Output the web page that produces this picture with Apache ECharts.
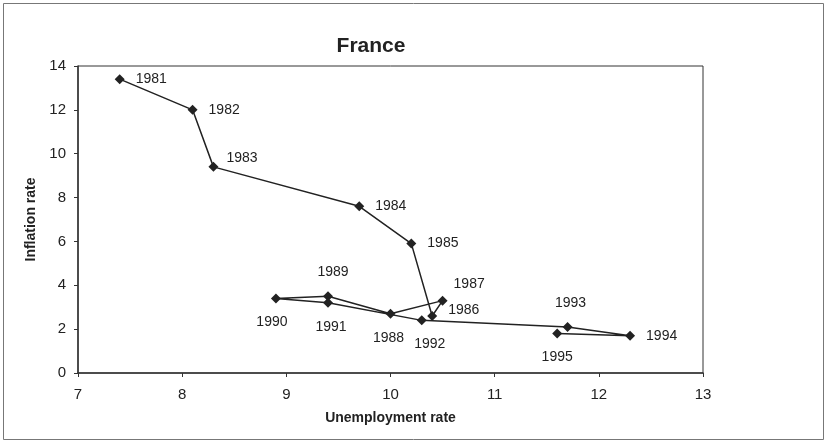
<!DOCTYPE html>
<html>
<head>
<meta charset="utf-8">
<script src="https://cdn.jsdelivr.net/npm/echarts@6/dist/echarts.min.js"></script>
<style>
  html, body { margin: 0; padding: 0; background: #fff; }
  #graphs { width: 827px; height: 443px; }
</style>
</head>
<body>
<div id="graphs"></div>
<script>
// data
var years = ['1981', '1982', '1983', '1984', '1985', '1986', '1987', '1988',
             '1989', '1990', '1991', '1992', '1993', '1994', '1995'];
var unemployment = [7.4, 8.1, 8.3, 9.7, 10.2, 10.4, 10.5, 10.0,
                    9.4, 8.9, 9.4, 10.3, 11.7, 12.3, 11.6];
var inflation = [13.4, 12.0, 9.4, 7.6, 5.9, 2.6, 3.3, 2.7,
                 3.5, 3.4, 3.2, 2.4, 2.1, 1.7, 1.8];
var xTicks = [7, 8, 9, 10, 11, 12, 13];
var yTicks = [0, 2, 4, 6, 8, 10, 12, 14];

// where each year label sits relative to its marker
var labelPlace = {
  '1981': { position: 'right', offset: [3, 0] },
  '1982': { position: 'right', offset: [3, 0] },
  '1983': { position: 'right', offset: [0, -9] },
  '1984': { position: 'right', offset: [3, 0] },
  '1985': { position: 'right', offset: [3, 0] },
  '1986': { position: 'right', offset: [3, -6] },
  '1987': { position: 'right', offset: [-2, -16] },
  '1988': { position: 'bottom', offset: [-2, 4] },
  '1989': { position: 'top', offset: [5, -4] },
  '1990': { position: 'bottom', offset: [-4, 4] },
  '1991': { position: 'bottom', offset: [3, 4] },
  '1992': { position: 'bottom', offset: [8, 4] },
  '1993': { position: 'top', offset: [3, -4] },
  '1994': { position: 'right', offset: [3, 0] },
  '1995': { position: 'bottom', offset: [0, 4] }
};

var points = years.map(function (y, i) {
  return {
    name: y,
    value: [unemployment[i], inflation[i]],
    label: labelPlace[y]
  };
});

var myChart = echarts.init(document.getElementById('graphs'));

var font = 'Arial, "Liberation Sans", sans-serif';

var option = {
  backgroundColor: '#fff',
  animation: false,
  title: {
    text: 'France',
    left: 366,
    top: 31,
    textAlign: 'center',
    textStyle: { fontFamily: font, fontSize: 21, fontWeight: 'bold', color: '#222' }
  },
  graphic: [{
    type: 'rect',
    shape: { x: 3.5, y: 3.5, width: 820, height: 436 },
    style: { fill: 'none', stroke: '#777', lineWidth: 1 }
  }],
  grid: {
    left: 78, right: 124, top: 66, bottom: 70,
    show: true, borderColor: '#333', borderWidth: 1
  },
  xAxis: {
    type: 'value',
    min: xTicks[0],
    max: xTicks[xTicks.length - 1],
    interval: 1,
    name: 'Unemployment rate',
    nameLocation: 'middle',
    nameGap: 38,
    nameTextStyle: { fontFamily: font, fontSize: 14, fontWeight: 'bold', color: '#222' },
    splitLine: { show: false },
    axisLine: { lineStyle: { color: '#333', width: 1.5 } },
    axisTick: { show: true, length: 4, lineStyle: { color: '#333' } },
    axisLabel: { fontFamily: font, fontSize: 15, color: '#222', margin: 14 }
  },
  yAxis: {
    type: 'value',
    min: yTicks[0],
    max: yTicks[yTicks.length - 1],
    interval: 2,
    name: 'Inflation rate',
    nameLocation: 'middle',
    nameGap: 38,
    nameTextStyle: { fontFamily: font, fontSize: 14, fontWeight: 'bold', color: '#222' },
    splitLine: { show: false },
    axisLine: { show: true, lineStyle: { color: '#333', width: 1.5 } },
    axisTick: { show: true, length: 4, lineStyle: { color: '#333' } },
    axisLabel: { fontFamily: font, fontSize: 15, color: '#222', margin: 12 }
  },
  series: [{
    type: 'line',
    data: points,
    symbol: 'diamond',
    symbolSize: 10,
    lineStyle: { color: '#222', width: 1.5 },
    itemStyle: { color: '#222' },
    label: {
      show: true,
      distance: 8,
      formatter: '{b}',
      fontFamily: font,
      fontSize: 14,
      color: '#222'
    }
  }]
};

myChart.setOption(option);
</script>
</body>
</html>
